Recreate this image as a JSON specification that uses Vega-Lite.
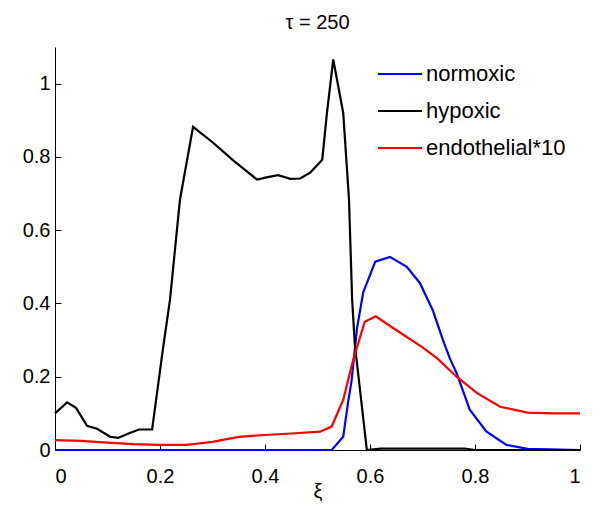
{
  "$schema": "https://vega.github.io/schema/vega-lite/v6.json",
  "autosize": "none",
  "width": 525,
  "height": 403,
  "padding": {"left": 55, "top": 47, "right": 21, "bottom": 58},
  "background": "white",
  "title": {"text": "τ = 250", "fontSize": 20, "font": "Liberation Sans", "fontWeight": "normal", "color": "#000", "offset": 14},
  "config": {
    "view": {"stroke": null},
    "axis": {"labelFont": "Liberation Sans", "titleFont": "Liberation Sans", "labelFontSize": 20, "titleFontSize": 20, "labelColor": "#000", "titleColor": "#000", "domainColor": "#000", "tickColor": "#000", "grid": false, "titleFontWeight": "normal", "tickSize": -6}
  },
  "data": {"values": [
    {"series": "normoxic", "x": 0, "y": 0.0},
    {"series": "normoxic", "x": 0.527, "y": 0.0},
    {"series": "normoxic", "x": 0.549, "y": 0.036},
    {"series": "normoxic", "x": 0.558, "y": 0.128},
    {"series": "normoxic", "x": 0.565, "y": 0.19},
    {"series": "normoxic", "x": 0.575, "y": 0.33},
    {"series": "normoxic", "x": 0.587, "y": 0.43},
    {"series": "normoxic", "x": 0.61, "y": 0.514},
    {"series": "normoxic", "x": 0.638, "y": 0.527},
    {"series": "normoxic", "x": 0.67, "y": 0.5},
    {"series": "normoxic", "x": 0.695, "y": 0.456},
    {"series": "normoxic", "x": 0.72, "y": 0.38},
    {"series": "normoxic", "x": 0.739, "y": 0.3},
    {"series": "normoxic", "x": 0.752, "y": 0.25},
    {"series": "normoxic", "x": 0.765, "y": 0.21},
    {"series": "normoxic", "x": 0.79, "y": 0.11},
    {"series": "normoxic", "x": 0.822, "y": 0.05},
    {"series": "normoxic", "x": 0.86, "y": 0.014},
    {"series": "normoxic", "x": 0.9, "y": 0.003},
    {"series": "normoxic", "x": 1.0, "y": 0.0},
    {"series": "hypoxic", "x": 0, "y": 0.1},
    {"series": "hypoxic", "x": 0.023, "y": 0.13},
    {"series": "hypoxic", "x": 0.04, "y": 0.115},
    {"series": "hypoxic", "x": 0.061, "y": 0.066},
    {"series": "hypoxic", "x": 0.08, "y": 0.058},
    {"series": "hypoxic", "x": 0.105, "y": 0.036},
    {"series": "hypoxic", "x": 0.12, "y": 0.033},
    {"series": "hypoxic", "x": 0.14, "y": 0.045},
    {"series": "hypoxic", "x": 0.16, "y": 0.056},
    {"series": "hypoxic", "x": 0.185, "y": 0.056},
    {"series": "hypoxic", "x": 0.206, "y": 0.28},
    {"series": "hypoxic", "x": 0.219, "y": 0.41},
    {"series": "hypoxic", "x": 0.238, "y": 0.683},
    {"series": "hypoxic", "x": 0.263, "y": 0.882},
    {"series": "hypoxic", "x": 0.3, "y": 0.84},
    {"series": "hypoxic", "x": 0.34, "y": 0.79},
    {"series": "hypoxic", "x": 0.385, "y": 0.738},
    {"series": "hypoxic", "x": 0.405, "y": 0.745},
    {"series": "hypoxic", "x": 0.425, "y": 0.75},
    {"series": "hypoxic", "x": 0.448, "y": 0.74},
    {"series": "hypoxic", "x": 0.467, "y": 0.741},
    {"series": "hypoxic", "x": 0.486, "y": 0.757},
    {"series": "hypoxic", "x": 0.509, "y": 0.792},
    {"series": "hypoxic", "x": 0.518, "y": 0.92},
    {"series": "hypoxic", "x": 0.53, "y": 1.066},
    {"series": "hypoxic", "x": 0.549, "y": 0.92},
    {"series": "hypoxic", "x": 0.56, "y": 0.683},
    {"series": "hypoxic", "x": 0.566, "y": 0.41},
    {"series": "hypoxic", "x": 0.571, "y": 0.29},
    {"series": "hypoxic", "x": 0.594, "y": 0.0},
    {"series": "hypoxic", "x": 0.62, "y": 0.004},
    {"series": "hypoxic", "x": 0.7, "y": 0.004},
    {"series": "hypoxic", "x": 0.78, "y": 0.004},
    {"series": "hypoxic", "x": 0.8, "y": 0.0},
    {"series": "hypoxic", "x": 1.0, "y": 0.0},
    {"series": "endothelial*10", "x": 0, "y": 0.027},
    {"series": "endothelial*10", "x": 0.05, "y": 0.025},
    {"series": "endothelial*10", "x": 0.1, "y": 0.02},
    {"series": "endothelial*10", "x": 0.15, "y": 0.016},
    {"series": "endothelial*10", "x": 0.2, "y": 0.014},
    {"series": "endothelial*10", "x": 0.25, "y": 0.014},
    {"series": "endothelial*10", "x": 0.3, "y": 0.022},
    {"series": "endothelial*10", "x": 0.35, "y": 0.036},
    {"series": "endothelial*10", "x": 0.4, "y": 0.041},
    {"series": "endothelial*10", "x": 0.45, "y": 0.045},
    {"series": "endothelial*10", "x": 0.505, "y": 0.05},
    {"series": "endothelial*10", "x": 0.527, "y": 0.064},
    {"series": "endothelial*10", "x": 0.549, "y": 0.137},
    {"series": "endothelial*10", "x": 0.568, "y": 0.246},
    {"series": "endothelial*10", "x": 0.59, "y": 0.35},
    {"series": "endothelial*10", "x": 0.611, "y": 0.365},
    {"series": "endothelial*10", "x": 0.644, "y": 0.333},
    {"series": "endothelial*10", "x": 0.7, "y": 0.28},
    {"series": "endothelial*10", "x": 0.728, "y": 0.25},
    {"series": "endothelial*10", "x": 0.765, "y": 0.2},
    {"series": "endothelial*10", "x": 0.804, "y": 0.155},
    {"series": "endothelial*10", "x": 0.848, "y": 0.118},
    {"series": "endothelial*10", "x": 0.9, "y": 0.102},
    {"series": "endothelial*10", "x": 0.95, "y": 0.1},
    {"series": "endothelial*10", "x": 1.0, "y": 0.1}
  ]},
  "mark": {"type": "line", "strokeWidth": 2.2},
  "encoding": {
    "x": {"field": "x", "type": "quantitative", "scale": {"domain": [0, 1], "nice": false, "zero": false},
      "axis": {"values": [0, 0.2, 0.4, 0.6, 0.8, 1], "format": "~g", "title": "ξ", "labelPadding": 22, "titlePadding": -5}},
    "y": {"field": "y", "type": "quantitative", "scale": {"domain": [0, 1.1], "nice": false},
      "axis": {"values": [0, 0.2, 0.4, 0.6, 0.8, 1], "format": "~g", "title": null, "labelPadding": 11}},
    "color": {"field": "series", "type": "nominal",
      "scale": {"domain": ["normoxic", "hypoxic", "endothelial*10"], "range": ["#0000ff", "#000000", "#ff0000"]},
      "legend": {"title": null, "orient": "none", "legendX": 322, "legendY": 4, "symbolType": "stroke", "symbolSize": 1936, "symbolStrokeWidth": 2, "labelFont": "Liberation Sans", "labelFontSize": 22, "labelColor": "#000", "labelOffset": 3, "rowPadding": 3}},
    "order": {"field": "x", "type": "quantitative"}
  }
}
